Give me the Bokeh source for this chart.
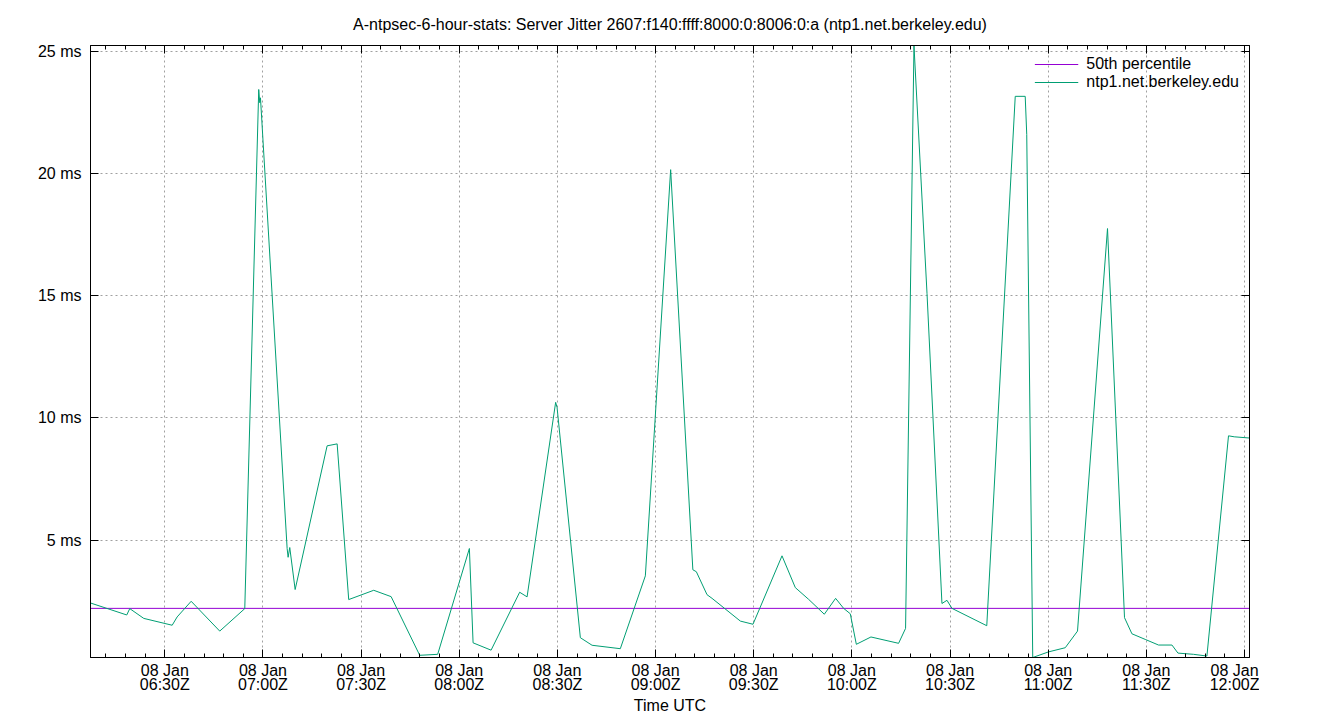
import numpy as np
import pandas as pd
from bokeh.plotting import figure
from bokeh.models import (FixedTicker, DatetimeTickFormatter, PrintfTickFormatter,
                          LinearAxis, Range1d, Legend, LegendItem)
from bokeh.embed import file_html
from bokeh.resources import INLINE

# ---------------- data ----------------
DAY = "2025-01-08"
TITLE = "A-ntpsec-6-hour-stats: Server Jitter 2607:f140:ffff:8000:0:8006:0:a (ntp1.net.berkeley.edu)"
SERIES_NAME = "ntp1.net.berkeley.edu"
P50_NAME = "50th percentile"

times = ["06:07:18", "06:18:23", "06:19:18", "06:23:35", "06:32:16", "06:33:47",
         "06:38:04", "06:46:48", "06:54:27", "06:58:43", "06:59:02", "06:59:15",
         "07:07:24", "07:07:42", "07:08:12", "07:09:51", "07:19:37", "07:22:41",
         "07:26:13", "07:33:52", "07:39:11", "07:47:55", "07:53:25", "08:03:06",
         "08:04:14", "08:09:44", "08:18:28", "08:20:44", "08:29:28", "08:29:54",
         "08:37:01", "08:40:36", "08:49:14", "08:56:53", "09:04:37", "09:11:24",
         "09:12:28", "09:15:44", "09:17:16", "09:25:55", "09:29:47", "09:38:39",
         "09:42:43", "09:46:47", "09:51:35", "09:55:02", "09:57:29", "09:59:31",
         "10:01:22", "10:05:50", "10:14:17", "10:16:25", "10:18:59", "10:22:58",
         "10:27:32", "10:29:04", "10:30:36", "10:41:14", "10:49:56", "10:52:59",
         "10:53:27", "10:55:17", "11:00:07", "11:05:13", "11:08:58", "11:18:08",
         "11:23:20", "11:25:36", "11:29:40", "11:33:44", "11:37:50", "11:39:40",
         "11:44:25", "11:48:31", "11:55:07", "11:56:52", "12:01:32"]

jitter_ms = [2.43, 1.94, 2.20, 1.80, 1.52, 1.86,
             2.50, 1.28, 2.20, 23.44, 22.90, 23.10,
             4.66, 4.30, 4.70, 2.98, 8.86, 8.94,
             2.57, 2.95, 2.69, 0.29, 0.33, 4.66,
             0.80, 0.50, 2.87, 2.68, 10.64, 10.43,
             1.01, 0.70, 0.56, 3.54, 20.16, 3.79,
             3.71, 2.77, 2.62, 1.69, 1.56, 4.36,
             3.06, 2.58, 1.97, 2.62, 2.21, 1.99,
             0.74, 1.04, 0.78, 1.39, 25.24, 15.10,
             2.41, 2.54, 2.21, 1.50, 23.16, 23.16,
             21.60, 0.20, 0.43, 0.60, 1.28, 17.75,
             1.83, 1.17, 0.94, 0.71, 0.71, 0.38,
             0.33, 0.26, 9.27, 9.23, 9.18]

p50_ms = 2.21

x_tick_times = ["06:30", "07:00", "07:30", "08:00", "08:30", "09:00",
                "09:30", "10:00", "10:30", "11:00", "11:30", "12:00"]
y_ticks = [5, 10, 15, 20, 25]

# ---------------- conversion ----------------
def to_ms(hhmmss):
    return pd.Timestamp(f"{DAY} {hhmmss}").value / 1e6

x_ms = np.array([to_ms(s) for s in times])
y = np.array(jitter_ms)
major_ms = [to_ms(s) for s in x_tick_times]
minute = 60_000
minor_ms = list(np.arange(major_ms[0] - 30 * minute, x_ms[-1] + 1, 6 * minute))

FONT = "Liberation Sans"
FS = "16px"

p = figure(frame_width=1159, frame_height=612,
           x_axis_type="datetime",
           x_range=Range1d(x_ms.min(), x_ms.max()),
           y_range=Range1d(y.min(), y.max()),
           output_backend="svg", toolbar_location=None,
           min_border_left=90, min_border_top=45, min_border_right=10,
           min_border_bottom=10)

p.title.text = TITLE
p.title.align = "center"
p.title.text_font = FONT
p.title.text_font_size = FS
p.title.text_font_style = "normal"
p.title.text_color = "black"
p.title.standoff = 26

p.outline_line_color = "black"
p.outline_line_width = 1
p.background_fill_color = "white"
p.border_fill_color = "white"

xticker = FixedTicker(ticks=major_ms, minor_ticks=minor_ms)
yticker = FixedTicker(ticks=y_ticks, minor_ticks=[])

fmt = DatetimeTickFormatter(seconds="%d %b\n%H:%MZ", minsec="%d %b\n%H:%MZ",
                            minutes="%d %b\n%H:%MZ", hourmin="%d %b\n%H:%MZ",
                            hours="%d %b\n%H:%MZ", days="%d %b\n%H:%MZ")

def style_axis(ax, labels=True):
    ax.axis_line_color = "black"
    ax.major_tick_in = 8
    ax.major_tick_out = 0
    ax.minor_tick_in = 4
    ax.minor_tick_out = 0
    ax.major_tick_line_color = "black"
    ax.minor_tick_line_color = "black"
    ax.major_label_text_font = FONT
    if labels:
        ax.major_label_text_font_size = FS
        ax.major_label_text_color = "black"
    else:
        ax.major_label_text_font_size = "1px"
        ax.major_label_text_color = None
    ax.axis_label_text_font = FONT
    ax.axis_label_text_font_size = FS
    ax.axis_label_text_font_style = "normal"
    ax.axis_label_text_color = "black"

xa = p.xaxis[0]
xa.ticker = xticker
xa.formatter = fmt
xa.axis_label = "Time UTC"
style_axis(xa)
xa.major_label_standoff = 4
xa.major_label_text_line_height = 0.85
xa.axis_label_standoff = 1

ya = p.yaxis[0]
ya.ticker = yticker
ya.formatter = PrintfTickFormatter(format="%d ms")
style_axis(ya)
ya.major_label_standoff = 9

top = LinearAxis(ticker=xticker)
style_axis(top, labels=False)
top.major_label_standoff = 0
p.add_layout(top, "above")

right = LinearAxis(ticker=yticker)
style_axis(right, labels=False)
right.major_label_standoff = 0
p.add_layout(right, "right")

for g in (p.xgrid[0], p.ygrid[0]):
    g.grid_line_color = "#a0a0a0"
    g.grid_line_dash = "2 3"
    g.grid_line_width = 1
p.xgrid[0].ticker = FixedTicker(ticks=major_ms)
p.ygrid[0].ticker = yticker

r_p50 = p.line(x=[x_ms.min(), x_ms.max()], y=[p50_ms, p50_ms],
               line_color="#9400d3", line_width=1)
r_data = p.line(x=x_ms, y=y, line_color="#009e73", line_width=1)

legend = Legend(items=[LegendItem(label=P50_NAME, renderers=[r_p50]),
                       LegendItem(label=SERIES_NAME, renderers=[r_data])],
                location="top_right", border_line_color=None,
                background_fill_alpha=0, label_text_font=FONT,
                label_text_font_size=FS, label_text_color="black",
                label_text_line_height=0.8,
                glyph_width=44, glyph_height=12, label_height=12,
                spacing=-4, padding=0, margin=10, label_standoff=8)
p.add_layout(legend)

open("out.html", "w").write(file_html(p, INLINE))
